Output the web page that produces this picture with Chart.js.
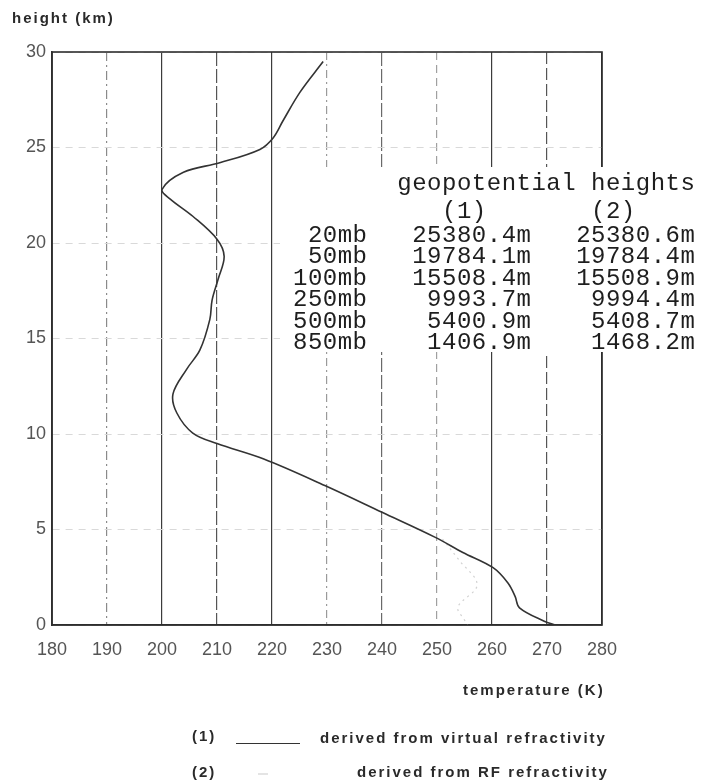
<!DOCTYPE html>
<html>
<head>
<meta charset="utf-8">
<title>Temperature profile</title>
<script src="https://cdn.jsdelivr.net/npm/chart.js@4.4.0/dist/chart.umd.min.js"></script>
<style>
  html, body { margin: 0; padding: 0; background: #fff; }
  #wrap { position: relative; width: 705px; height: 784px; overflow: hidden; }
  #chart { position: absolute; left: 0; top: 0; }
  .note { position: absolute; font-family: "Liberation Sans", Arial, sans-serif; font-weight: bold;
          font-size: 15px; color: #2a2a2a; white-space: pre; letter-spacing: 2px; line-height: 18px; }
  #table { position: absolute; left: 280px; top: 167px; width: 425px; height: 185px; background: #fff; }
  .mono { position: absolute; font-family: "Liberation Mono", "Courier New", monospace; font-size: 24px;
          letter-spacing: 0.5px; color: #1e1e1e; white-space: pre; line-height: 24px; }
  .key { position: absolute; height: 0; }
</style>
</head>
<body>
<div id="wrap">
  <canvas id="chart" width="705" height="784"></canvas>
  <div class="note" style="left:12px; top:9px;">height (km)</div>
  <div class="note" style="left:463px; top:681px;">temperature (K)</div>
  <div id="table"></div>
  <div class="note" style="left:192px; top:727px;">(1)</div>
  <div class="key" style="left:236px; top:743px; width:64px; border-top:1.5px solid #333;"></div>
  <div class="note" style="left:320px; top:729px;">derived from virtual refractivity</div>
  <div class="note" style="left:192px; top:763px;">(2)</div>
  <div class="key" style="left:258px; top:773px; width:10px; border-top:2px solid #e4e4e4;"></div>
  <div class="note" style="left:357px; top:763px;">derived from RF refractivity</div>
</div>
<script>
// profile (1): temperature (K) against height (km), from virtual refractivity
var tempVirtual = [271.5, 269.5, 265.0, 264.2, 262.9, 260.2, 254.7, 249.6, 240.0, 229.6, 218.4,
                   210.0, 205.6, 202.7, 202.0, 204.5, 206.9, 208.7, 209.1, 210.2, 211.3, 210.0, 205.6,
                   201.5, 200.0, 203.9, 210.5, 217.8, 220.2, 222.0, 225.1, 229.3];
var heightVirtual = [0, 0.2, 0.9, 1.5, 2.2, 3.0, 3.8, 4.6, 5.9, 7.3, 8.7,
                     9.5, 10.05, 11.1, 12.1, 13.4, 14.4, 16.0, 17.0, 18.1, 19.3, 20.2, 21.4,
                     22.3, 22.8, 23.7, 24.2, 24.9, 25.5, 26.4, 27.9, 29.5];

// profile (2): only the low part differs from (1)
var tempRF = [251.0, 254.0, 257.3, 253.8, 255.0, 255.6];
var heightRF = [4.5, 3.4, 2.1, 0.94, 0.26, 0];

// axis ticks
var tempTicks = [180, 190, 200, 210, 220, 230, 240, 250, 260, 270, 280];
var heightTicks = [0, 5, 10, 15, 20, 25, 30];

// geopotential heights table
var levels = ['20mb', '50mb', '100mb', '250mb', '500mb', '850mb'];
var geoVirtual = [25380.4, 19784.1, 15508.4, 9993.7, 5400.9, 1406.9];
var geoRF = [25380.6, 19784.4, 15508.9, 9994.4, 5408.7, 1468.2];

function pairs(xs, ys) {
  return xs.map(function (x, i) { return {x: x, y: ys[i]}; });
}

// table text on its white card, one positioned line each
(function () {
  var table = document.getElementById('table');
  var lines = [
    {text: '       geopotential heights', top: 5},
    {text: '          (1)       (2)', top: 33}
  ];
  levels.forEach(function (lv, i) {
    var row = lv.padStart(5) + '   ' + (geoVirtual[i].toFixed(1) + 'm').padStart(8) +
              '   ' + (geoRF[i].toFixed(1) + 'm').padStart(8);
    lines.push({text: row, top: Math.round(57 + i * 21.4)});
  });
  lines.forEach(function (l) {
    var d = document.createElement('div');
    d.className = 'mono';
    d.style.left = '13px';
    d.style.top = l.top + 'px';
    d.textContent = l.text;
    table.appendChild(d);
  });
})();

// vertical rules differ in weight and dash along the temperature axis
var vStyle = {
  180: {c: '#2e2e2e', d: []},
  190: {c: '#8a8a8a', d: [9, 4, 2, 4]},
  200: {c: '#3c3c3c', d: []},
  210: {c: '#555555', d: [14, 3]},
  220: {c: '#3c3c3c', d: []},
  230: {c: '#9a9a9a', d: [8, 4, 2, 4]},
  240: {c: '#6a6a6a', d: [14, 3]},
  250: {c: '#a0a0a0', d: [8, 5]},
  260: {c: '#3c3c3c', d: []},
  270: {c: '#555555', d: [12, 4]},
  280: {c: '#2e2e2e', d: []}
};

var frame = {
  id: 'frame',
  afterDatasetsDraw: function (chart) {
    var a = chart.chartArea, ctx = chart.ctx;
    ctx.save();
    ctx.strokeStyle = '#2e2e2e';
    ctx.lineWidth = 1.6;
    ctx.strokeRect(a.left, a.top, a.right - a.left, a.bottom - a.top);
    ctx.restore();
  }
};

new Chart(document.getElementById('chart'), {
  type: 'scatter',
  data: {
    datasets: [
      {
        label: 'derived from virtual refractivity',
        data: pairs(tempVirtual, heightVirtual),
        showLine: true,
        borderColor: '#333',
        borderWidth: 1.6,
        pointRadius: 0,
        tension: 0.35
      },
      {
        label: 'derived from RF refractivity',
        data: pairs(tempRF, heightRF),
        showLine: true,
        borderColor: '#d2d2d2',
        borderWidth: 1.2,
        borderDash: [2, 4],
        pointRadius: 0,
        tension: 0.35
      }
    ]
  },
  options: {
    responsive: false,
    animation: false,
    devicePixelRatio: 1,
    layout: {padding: {top: 52, right: 103, left: 0, bottom: 0}},
    plugins: {legend: {display: false}, tooltip: {enabled: false}},
    scales: {
      x: {
        type: 'linear',
        min: tempTicks[0],
        max: tempTicks[tempTicks.length - 1],
        afterBuildTicks: function (s) { s.ticks = tempTicks.map(function (v) { return {value: v}; }); },
        afterFit: function (s) { s.height = 159; },
        ticks: {
          color: '#555',
          padding: 14,
          font: {family: '"Liberation Sans", Arial, sans-serif', size: 18}
        },
        grid: {
          drawTicks: false,
          lineWidth: 1.2,
          color: function (c) { return c.tick && vStyle[c.tick.value] ? vStyle[c.tick.value].c : '#555'; }
        },
        border: {
          color: '#2e2e2e',
          width: 1.6,
          dash: function (c) { return c.tick && vStyle[c.tick.value] ? vStyle[c.tick.value].d : []; }
        }
      },
      y: {
        type: 'linear',
        min: heightTicks[0],
        max: heightTicks[heightTicks.length - 1],
        afterBuildTicks: function (s) { s.ticks = heightTicks.map(function (v) { return {value: v}; }); },
        afterFit: function (s) { s.width = 52; },
        ticks: {
          color: '#555',
          padding: 6,
          font: {family: '"Liberation Sans", Arial, sans-serif', size: 18}
        },
        grid: {
          drawTicks: false,
          lineWidth: 1,
          color: '#d9d9d9'
        },
        border: {
          color: '#2e2e2e',
          width: 1.6,
          dash: [7, 6]
        }
      }
    }
  },
  plugins: [frame]
});
</script>
</body>
</html>
